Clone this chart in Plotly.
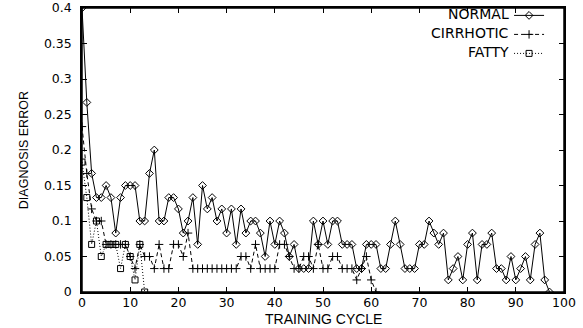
import plotly.graph_objects as go

# Training cycles and diagnosis error per class
normal_error = [
    0.4, 0.267, 0.167, 0.133, 0.133, 0.15, 0.133, 0.083, 0.133, 0.15,
    0.15, 0.15, 0.1, 0.1, 0.167, 0.2, 0.1, 0.1, 0.133, 0.133,
    0.117, 0.083, 0.1, 0.133, 0.067, 0.15, 0.117, 0.133, 0.1, 0.117,
    0.083, 0.117, 0.067, 0.117, 0.083, 0.1, 0.1, 0.083, 0.05, 0.1,
    0.067, 0.1, 0.083, 0.05, 0.067, 0.033, 0.033, 0.033, 0.1, 0.067,
    0.1, 0.067, 0.1, 0.1, 0.067, 0.067, 0.067, 0.033, 0.033, 0.067,
    0.067, 0.067, 0.033, 0.033, 0.067, 0.1, 0.067, 0.033, 0.033, 0.033,
    0.067, 0.067, 0.1, 0.083, 0.067, 0.083, 0.017, 0.033, 0.05, 0.017,
    0.067, 0.083, 0.017, 0.067, 0.067, 0.083, 0.033, 0.033, 0.017, 0.05,
    0.017, 0.033, 0.05, 0.017, 0.067, 0.083, 0.017, 0.0,
]
cirrhotic_error = [
    0.233, 0.167, 0.117, 0.1, 0.1, 0.067, 0.067, 0.067, 0.067, 0.067,
    0.05, 0.033, 0.067, 0.05, 0.05, 0.033, 0.067, 0.033, 0.033, 0.067,
    0.067, 0.05, 0.083, 0.033, 0.033, 0.033, 0.033, 0.033, 0.033, 0.033,
    0.033, 0.033, 0.033, 0.05, 0.05, 0.033, 0.067, 0.033, 0.033, 0.033,
    0.033, 0.067, 0.067, 0.05, 0.033, 0.033, 0.05, 0.05, 0.033, 0.067,
    0.033, 0.033, 0.05, 0.05, 0.033, 0.033, 0.033, 0.017, 0.033, 0.05,
    0.017, 0.0,
]
fatty_error = [
    0.183, 0.133, 0.067, 0.1, 0.05, 0.067, 0.067, 0.067, 0.033, 0.067,
    0.05, 0.017, 0.067, 0.0,
]
normal_cycles = list(range(len(normal_error)))
cirrhotic_cycles = list(range(len(cirrhotic_error)))
fatty_cycles = list(range(len(fatty_error)))

series_names = ["NORMAL", "CIRRHOTIC", "FATTY"]
x_ticks = list(range(0, 101, 10))
y_ticks = [0, 0.05, 0.1, 0.15, 0.2, 0.25, 0.3, 0.35, 0.4]

fig = go.Figure()
fig.add_trace(go.Scatter(
    x=normal_cycles, y=normal_error, mode="lines+markers", name="",
    line=dict(color="black", width=1),
    marker=dict(symbol="diamond-open", size=6, color="black", line=dict(width=1, color="black")),
))
fig.add_trace(go.Scatter(
    x=cirrhotic_cycles, y=cirrhotic_error, mode="lines+markers", name="",
    line=dict(color="black", width=1, dash="4px,3px"),
    marker=dict(symbol="cross-thin-open", size=6, color="black", line=dict(width=1, color="black")),
))
fig.add_trace(go.Scatter(
    x=fatty_cycles, y=fatty_error, mode="lines+markers", name="",
    line=dict(color="black", width=1, dash="1px,2px"),
    marker=dict(symbol="square-open", size=6, color="black", line=dict(width=1, color="black")),
))

font_main = "DejaVu Sans, Liberation Sans, Arial, sans-serif"
font_title = "Liberation Sans, Arial, sans-serif"

fig.update_layout(
    width=583, height=328,
    margin=dict(l=82, r=19, t=8, b=36, autoexpand=False),
    paper_bgcolor="white", plot_bgcolor="white",
    font=dict(family=font_main, size=12, color="black"),
    showlegend=True,
    legend=dict(
        x=0.886, xanchor="left", y=1.025, yanchor="top",
        bgcolor="rgba(0,0,0,0)", borderwidth=0,
        font=dict(size=10), itemwidth=30, tracegroupgap=0,
    ),
    xaxis=dict(
        range=[0, 100], tickvals=x_ticks, ticks="inside", ticklen=5,
        tickcolor="black", showline=True, linecolor="black", linewidth=1.5,
        mirror="allticks", showgrid=False, zeroline=False, automargin=False,
        tickfont=dict(family=font_main, size=12.5), ticklabelstandoff=-2,
        ticklabeloverflow="allow",
    ),
    yaxis=dict(
        range=[0, 0.4], tickvals=y_ticks, ticks="inside", ticklen=5,
        tickcolor="black", showline=True, linecolor="black", linewidth=1.5,
        mirror="allticks", showgrid=False, zeroline=False, automargin=False,
        tickfont=dict(family=font_main, size=12.5), ticklabelstandoff=6,
        ticklabeloverflow="allow",
    ),
)

# plot frame (border box)
fig.add_shape(
    type="rect", xref="paper", yref="paper", x0=0, y0=0, x1=1, y1=1,
    line=dict(color="black", width=1.5), fillcolor="rgba(0,0,0,0)", layer="above",
)

# axis titles
fig.add_annotation(
    text="TRAINING CYCLE", xref="paper", yref="paper", x=0.5, y=-0.095,
    xanchor="center", yanchor="middle", showarrow=False,
    font=dict(family=font_title, size=14, color="black"),
)
fig.add_annotation(
    text="DIAGNOSIS ERROR", xref="paper", yref="paper", x=-0.12, y=0.5,
    xanchor="center", yanchor="middle", showarrow=False, textangle=-90,
    font=dict(family=font_title, size=12.5, color="black"),
)

# legend labels, right-aligned to the left of the legend key samples
legend_rows_y = [0.9785, 0.912, 0.8455]
for name, yy in zip(series_names, legend_rows_y):
    fig.add_annotation(
        text=name, xref="paper", yref="paper", x=0.890, y=yy,
        xanchor="right", yanchor="middle", showarrow=False,
        font=dict(family=font_main, size=14, color="black"),
    )

fig.write_html(
    "out.html",
    config={"displayModeBar": False},
    post_script="document.body.style.margin='0';document.body.style.overflow='hidden';",
)
